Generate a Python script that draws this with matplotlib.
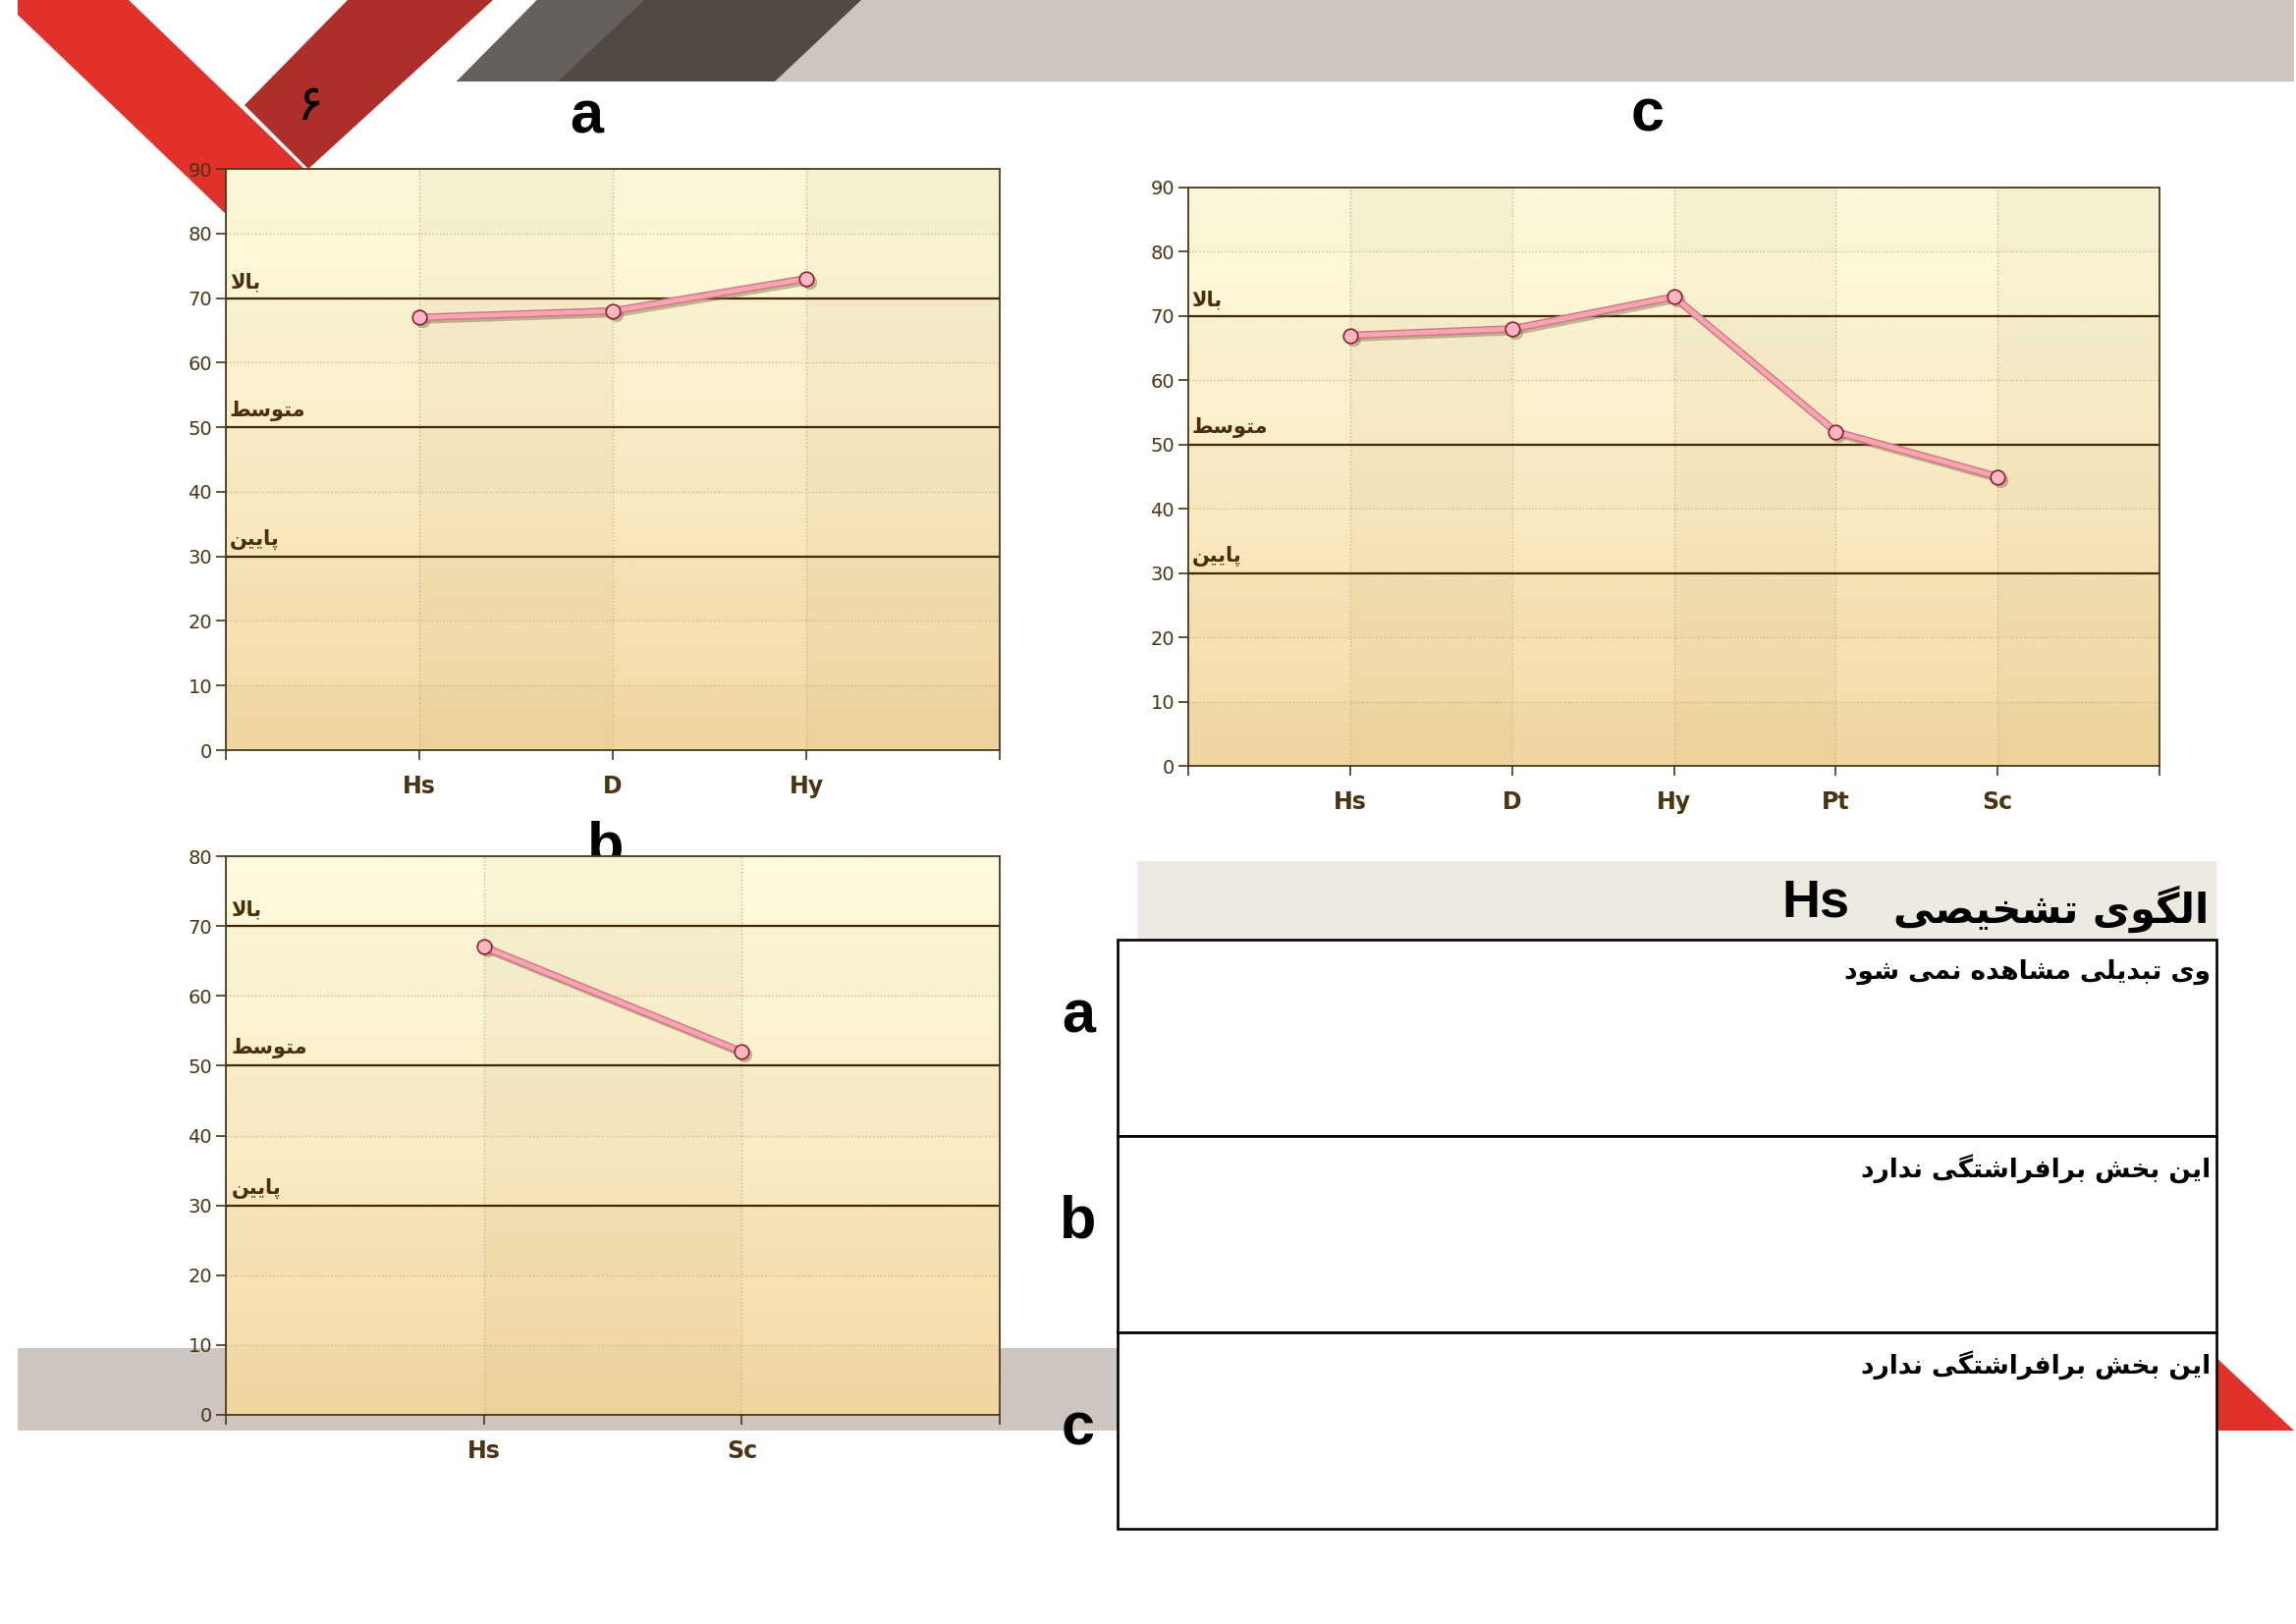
import matplotlib
matplotlib.use('Agg')
import matplotlib.pyplot as plt
import matplotlib.transforms as mtransforms
from matplotlib.colors import LinearSegmentedColormap
from matplotlib.patches import Polygon, Rectangle
import numpy as np

# ---- data ----
cats_a = ['Hs', 'D', 'Hy']
vals_a = [67, 68, 73]
cats_b = ['Hs', 'Sc']
vals_b = [67, 52]
cats_c = ['Hs', 'D', 'Hy', 'Pt', 'Sc']
vals_c = [67, 68, 73, 52, 45]

levels = [70, 50, 30]
level_names = ['بالا', 'متوسط', 'پایین']

header_title = 'الگوی تشخیصی'
header_scale = 'Hs'
row_names = ['a', 'b', 'c']
row_texts = ['وی تبدیلی مشاهده نمی شود',
             'این بخش برافراشتگی ندارد',
             'این بخش برافراشتگی ندارد']
page_no = '۶'

W, H = 2338, 1654
BROWN = '#4B3414'
FA = ['DejaVu Sans']

# ---- tiny persian shaper (matplotlib has no RTL / joining) ----
# isolated, final, initial, medial
FORMS = {
    'ا': ('\uFE8D', '\uFE8E', None, None),
    'آ': ('\uFE81', '\uFE82', None, None),
    'ب': ('\uFE8F', '\uFE90', '\uFE91', '\uFE92'),
    'پ': ('\uFB56', '\uFB57', '\uFB58', '\uFB59'),
    'ت': ('\uFE95', '\uFE96', '\uFE97', '\uFE98'),
    'خ': ('\uFEA5', '\uFEA6', '\uFEA7', '\uFEA8'),
    'د': ('\uFEA9', '\uFEAA', None, None),
    'ر': ('\uFEAD', '\uFEAE', None, None),
    'س': ('\uFEB1', '\uFEB2', '\uFEB3', '\uFEB4'),
    'ش': ('\uFEB5', '\uFEB6', '\uFEB7', '\uFEB8'),
    'ص': ('\uFEB9', '\uFEBA', '\uFEBB', '\uFEBC'),
    'ط': ('\uFEC1', '\uFEC2', '\uFEC3', '\uFEC4'),
    'ف': ('\uFED1', '\uFED2', '\uFED3', '\uFED4'),
    'گ': ('\uFB92', '\uFB93', '\uFB94', '\uFB95'),
    'ل': ('\uFEDD', '\uFEDE', '\uFEDF', '\uFEE0'),
    'م': ('\uFEE1', '\uFEE2', '\uFEE3', '\uFEE4'),
    'ن': ('\uFEE5', '\uFEE6', '\uFEE7', '\uFEE8'),
    'ه': ('\uFEE9', '\uFEEA', '\uFEEB', '\uFEEC'),
    'و': ('\uFEED', '\uFEEE', None, None),
    'ی': ('\uFBFC', '\uFBFD', '\uFBFE', '\uFBFF'),
}


def fa(text):
    out = []
    i = 0
    n = len(text)
    while i < n:
        c = text[i]
        if c not in FORMS:
            out.append(c)
            i += 1
            continue
        prev = text[i - 1] if i > 0 else ''
        joins_prev = prev in FORMS and FORMS[prev][2] is not None
        if c == 'ل' and i + 1 < n and text[i + 1] == 'ا':
            out.append('\uFEFC' if joins_prev else '\uFEFB')
            i += 2
            continue
        nxt = text[i + 1] if i + 1 < n else ''
        joins_next = FORMS[c][2] is not None and nxt in FORMS
        if joins_prev and joins_next:
            out.append(FORMS[c][3])
        elif joins_prev:
            out.append(FORMS[c][1])
        elif joins_next:
            out.append(FORMS[c][2])
        else:
            out.append(FORMS[c][0])
        i += 1
    return ''.join(out)[::-1]


def px_rect(x0, y0, x1, y1):
    # pixel box (top-left origin) -> figure fraction
    return [x0 / W, 1 - y1 / H, (x1 - x0) / W, (y1 - y0) / H]


bg_cmap = LinearSegmentedColormap.from_list('bg', ['#F4D9A4', '#FBEDC6', '#FFFCE0'])


def profile_chart(ax, cats, vals, ymax):
    n = len(cats)
    grad = np.linspace(0, 1, 256).reshape(-1, 1)
    ax.imshow(grad, cmap=bg_cmap, origin='lower', aspect='auto',
              extent=[0, n + 1, 0, ymax], zorder=0)
    # faint column / row banding like the original chart skin
    for k in range(1, n + 1, 2):
        ax.axvspan(k, k + 1, color='#8A7A30', alpha=0.045, lw=0, zorder=0.5)
    for k in range(0, ymax, 20):
        ax.axhspan(k, k + 10, color='#8A7A30', alpha=0.03, lw=0, zorder=0.5)
    ax.set_xlim(0, n + 1)
    ax.set_ylim(0, ymax)

    ax.grid(True, color='#C9B894', linestyle=':', linewidth=1.0, zorder=1)
    for lev, name in zip(levels, level_names):
        ax.axhline(lev, color='#3F2A08', lw=1.6, zorder=2)
        ax.text(0.02, lev + 1.0, fa(name), family=FA, fontweight='bold',
                fontsize=15, color='#4A2E08', ha='left', va='bottom', zorder=3)

    x = np.arange(1, n + 1)
    shadow = mtransforms.offset_copy(ax.transData, fig=ax.figure, x=3, y=-3, units='dots')
    ax.plot(x, vals, color='#7D6B4E', lw=5, alpha=0.45, transform=shadow,
            solid_capstyle='round', zorder=4)
    ax.plot(x, vals, 'o', ms=11, color='#7D6B4E', alpha=0.45, transform=shadow,
            mec='none', zorder=4)
    ax.plot(x, vals, color='#CF7886', lw=5.5, solid_capstyle='round', zorder=5)
    ax.plot(x, vals, color='#F7A6B1', lw=3.4, solid_capstyle='round', zorder=6)
    ax.plot(x, vals, 'o', ms=10.5, mfc='#FFB6C3', mec='#8E1F33', mew=1.2, zorder=7)

    ax.set_xticks(range(0, n + 2))
    ax.set_xticklabels([''] + cats + [''], fontsize=17, fontweight='bold', color=BROWN)
    ax.set_yticks(range(0, ymax + 1, 10))
    ax.tick_params(axis='y', labelsize=14, labelcolor=BROWN, colors=BROWN,
                   length=7, pad=3, width=1.2)
    ax.tick_params(axis='x', colors=BROWN, length=7, pad=11, width=1.2)
    for sp in ax.spines.values():
        sp.set_color('#4A3A1A')
        sp.set_linewidth(1.3)


fig = plt.figure(figsize=(W / 100, H / 100), dpi=100)

# ---- slide background, drawn in pixel coords ----
bg = fig.add_axes([0, 0, 1, 1], zorder=0)
bg.set_xlim(0, W)
bg.set_ylim(H, 0)
bg.axis('off')

# top grey ribbon
bg.add_patch(Polygon([(547, 0), (W - 2, 0), (W - 2, 83), (465, 83)], color='#CDC5C0', lw=0, zorder=1))
bg.add_patch(Polygon([(547, 0), (877, 0), (789, 83), (465, 83)], color='#524A42', lw=0, zorder=2))
bg.add_patch(Polygon([(547, 0), (656, 0), (568, 83), (465, 83)], color='#65605B', lw=0, zorder=3))
# red V at top left
bg.add_patch(Polygon([(18, 0), (131, 0), (420, 278), (300, 285), (18, 15)], color='#E2312B', lw=0, zorder=2))
bg.add_patch(Polygon([(354, 0), (502, 0), (314, 172), (249, 107)], color='#AE2F2A', lw=0, zorder=3))
bg.text(316, 108, page_no, family=FA, fontsize=36, color='black', ha='center', va='center', zorder=4)

# bottom grey band and red corner
bg.add_patch(Rectangle((18, 1373), 2200, 84, color='#CDC5C0', lw=0, zorder=1))
bg.add_patch(Polygon([(2190, 1320), (2336, 1457), (2190, 1457)], color='#E2312B', lw=0, zorder=2))

# chart titles
bg.text(597, 135, 'a', family='Liberation Sans', fontweight='bold', fontsize=44, ha='center', va='baseline', zorder=4)
bg.text(1678, 134, 'c', family='Liberation Sans', fontweight='bold', fontsize=44, ha='center', va='baseline', zorder=4)
bg.text(617, 880, 'b', family='Liberation Sans', fontweight='bold', fontsize=44, ha='center', va='baseline', zorder=4)

# ---- table on the right ----
bg.add_patch(Rectangle((1158, 877), 2257 - 1158, 80, color='#EDEAE1', lw=0, zorder=3))
bg.text(2249, 940, fa(header_title), family=FA, fontweight='bold', fontsize=30,
        ha='right', va='baseline', zorder=6)
bg.text(1849, 933, header_scale, family='Liberation Sans', fontweight='bold', fontsize=39,
        ha='center', va='baseline', zorder=6)

row_top = [957, 1157, 1357]
for top, name, txt in zip(row_top, row_names, row_texts):
    bg.add_patch(Rectangle((1138, top), 2257 - 1138, 200, facecolor='white',
                           edgecolor='black', lw=1.9, zorder=5))
    bg.text(2251, top + 33, fa(txt), family=FA, fontweight='bold', fontsize=19,
            ha='right', va='center', zorder=6)
label_y = [1036, 1245, 1456]
for y, name in zip(label_y, row_names):
    bg.text(1098, y, name, family='Liberation Sans', fontweight='bold', fontsize=44,
            ha='center', va='center', zorder=6)

# ---- the three profile charts ----
ax_a = fig.add_axes(px_rect(230, 172, 1018, 764), zorder=2)
profile_chart(ax_a, cats_a, vals_a, 90)

ax_b = fig.add_axes(px_rect(230, 872, 1018, 1441), zorder=2)
profile_chart(ax_b, cats_b, vals_b, 80)

ax_c = fig.add_axes(px_rect(1210, 191, 2199, 780), zorder=2)
profile_chart(ax_c, cats_c, vals_c, 90)

plt.savefig('out.png', dpi=100)
